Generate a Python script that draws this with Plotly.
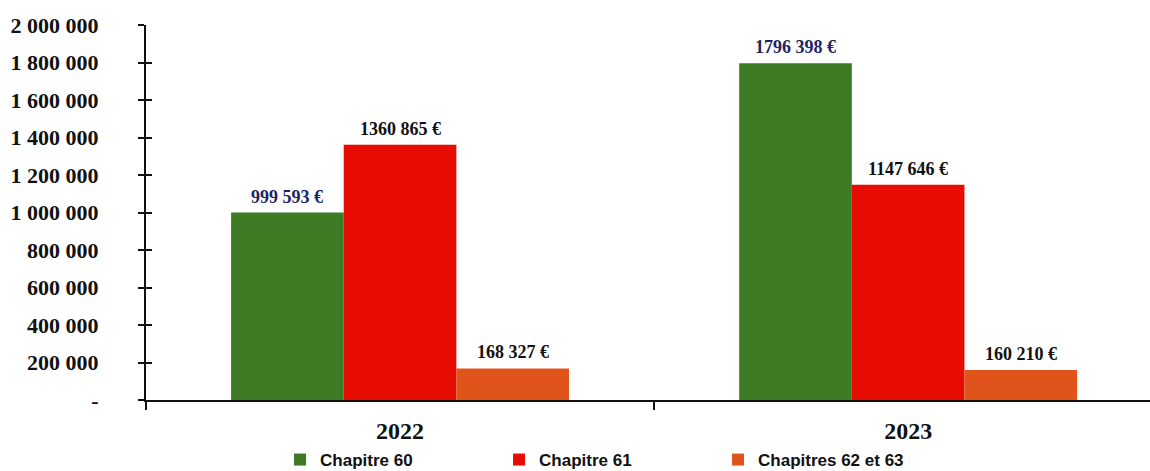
import plotly.graph_objects as go

# Budget by chapter and year
years = ["2022", "2023"]
series_names = ["Chapitre 60", "Chapitre 61", "Chapitres 62 et 63"]
chap60 = [999593, 1796398]
chap61 = [1360865, 1147646]
chap62_63 = [168327, 160210]

y_tickvals = [0, 200000, 400000, 600000, 800000, 1000000, 1200000,
              1400000, 1600000, 1800000, 2000000]
y_ticktext = ["-", "200 000", "400 000", "600 000", "800 000", "1 000 000",
              "1 200 000", "1 400 000", "1 600 000", "1 800 000", "2 000 000"]

colors = ["#3c7a23", "#e60c02", "#e0531a"]
label_colors = ["#1d2466", "#111111", "#111111"]

SERIF = "Liberation Serif, Times New Roman, serif"
SANS = "Liberation Sans, Arial, sans-serif"
BARGAP = 0.335


def euro(v):
    return f"{v // 1000} {v % 1000:03d} €"


fig = go.Figure()
all_series = [chap60, chap61, chap62_63]
for name, vals, col in zip(series_names, all_series, colors):
    fig.add_trace(go.Bar(
        x=years, y=vals, name=name,
        marker=dict(color=col, line=dict(width=0)),
        hoverinfo="skip",
    ))

# invisible helper so the inner tick marks of the value axis get drawn
fig.add_trace(go.Scatter(
    x=[years[0]], y=[0], yaxis="y2", mode="markers",
    marker=dict(opacity=0), showlegend=False, hoverinfo="skip",
))

# value labels above each bar, placed at the grouped bar centres
n = len(all_series)
bar_w = (1 - BARGAP) / n
annotations = []
for i, (vals, lc) in enumerate(zip(all_series, label_colors)):
    off = -(1 - BARGAP) / 2 + (i + 0.5) * bar_w
    for j, v in enumerate(vals):
        annotations.append(dict(
            x=j + off, y=v, xref="x", yref="y",
            text=euro(v), showarrow=False,
            yanchor="bottom", yshift=4,
            font=dict(family=SERIF, size=18, color=lc, weight="bold"),
        ))

fig.update_layout(
    width=1150, height=471,
    margin=dict(l=146, r=0, t=25, b=71, autoexpand=False),
    paper_bgcolor="white", plot_bgcolor="white",
    barmode="group", bargap=BARGAP, bargroupgap=0,
    annotations=annotations,
    showlegend=True,
    legend=dict(
        orientation="h", x=0.1335, y=-0.16, xanchor="left", yanchor="middle",
        entrywidth=174, entrywidthmode="pixels",
        font=dict(family=SANS, size=17, color="#111111", weight="bold"),
        tracegroupgap=0,
    ),
    xaxis=dict(
        type="category", range=[-0.5, 1.476], automargin=False,
        showline=True, linecolor="#111111", linewidth=2,
        ticks="outside", tickson="boundaries", ticklen=8, tickwidth=2,
        tickcolor="#111111", showgrid=False,
        ticklabelstandoff=8,
        tickfont=dict(family=SERIF, size=24, color="#111111", weight="bold"),
        fixedrange=True,
    ),
    yaxis=dict(
        range=[0, 2000000], tickvals=y_tickvals, ticktext=y_ticktext,
        automargin=False,
        showline=True, linecolor="#111111", linewidth=2,
        ticks="outside", ticklen=6, tickwidth=2, tickcolor="#111111",
        showgrid=False, zeroline=False,
        ticklabelstandoff=35,
        tickfont=dict(family=SERIF, size=22, color="#111111", weight="bold"),
        fixedrange=True,
    ),
    yaxis2=dict(
        overlaying="y", side="left", range=[0, 2000000], automargin=False,
        tickvals=y_tickvals, showticklabels=False,
        ticks="inside", ticklen=6, tickwidth=2, tickcolor="#111111",
        showline=False, showgrid=False, zeroline=False, fixedrange=True,
    ),
)

fig.write_html("out.html", config={"displayModeBar": False})
